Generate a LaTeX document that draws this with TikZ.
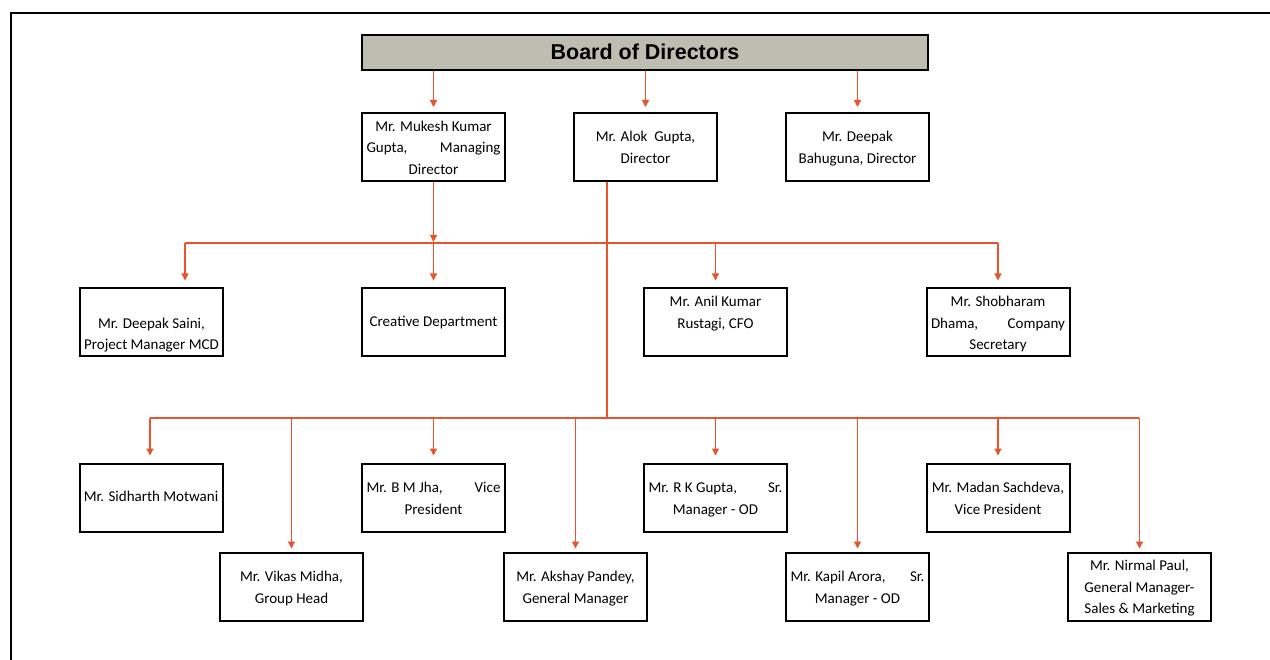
\documentclass[tikz,border=0pt]{standalone}
\usepackage{fontspec}
\setmainfont{Carlito}
\newfontfamily\boardfont{Liberation Sans}
\usetikzlibrary{arrows.meta}
\definecolor{conn}{RGB}{233,83,43}
\definecolor{boardfill}{RGB}{190,189,177}
\newcommand{\jline}[2]{\makebox[134pt]{#1\hfill#2}}
\newcommand{\firstl}{\rule[-4pt]{0pt}{19.5pt}}
\newcommand{\lastl}{\rule[-4pt]{0pt}{4pt}}
\begin{document}
\begin{tikzpicture}[x=1pt,y=-1pt,
 box/.style={draw=black,line width=2pt,minimum width=143pt,minimum height=68pt,inner sep=0pt,align=center,
   font=\fontsize{15}{21.5}\selectfont},
 boardbox/.style={draw=black,line width=2pt,fill=boardfill,minimum width=566pt,minimum height=35pt,inner sep=0pt,
   font=\boardfont\bfseries\fontsize{21.5}{24}\selectfont},
 arr/.style={draw=conn,line width=1.3pt,-{Triangle[length=7pt,width=7pt]}},
 ln/.style={draw=conn,line width=1.3pt},
 frame/.style={line width=2.5pt,line join=miter}]
\useasboundingbox (0,0) rectangle (1270,660);
\draw[frame] (11,662) -- (11,13) -- (1272,13);

\node[boardbox] (board) at (645,52.5) {\raisebox{2pt}{Board of Directors}};

\node[box] (mk) at (433.5,147) {\firstl Mr. Mukesh Kumar\\\jline{Gupta,}{Managing}\\Director\lastl};
\node[box] (ag) at (645.5,147) {\firstl Mr. Alok\ \ Gupta,\\Director\lastl};
\node[box] (db) at (857.5,147) {\firstl Mr. Deepak\\Bahuguna, Director\lastl};

\node[box] (ds) at (151.5,322.5) {\firstl\mbox{}\\Mr. Deepak Saini,\\Project Manager MCD\lastl};
\node[box] (cd) at (433.5,322.5) {\strut Creative Department};
\node[box] (ak) at (715.5,322.5) {\firstl Mr. Anil Kumar\\Rustagi, CFO\\\mbox{}\lastl};
\node[box] (sd) at (998,322.5) {\firstl Mr. Shobharam\\\jline{Dhama,}{Company}\\Secretary\lastl};

\node[box] (sm) at (151,497.5) {\strut Mr. Sidharth Motwani};
\node[box] (bm) at (433.5,497.5) {\firstl\jline{Mr. B M Jha,}{Vice}\\President\lastl};
\node[box] (rk) at (715.5,497.5) {\firstl\jline{Mr. R K Gupta,}{Sr.}\\Manager - OD\lastl};
\node[box] (ms) at (998,497.5) {\firstl Mr. Madan Sachdeva,\\Vice President\lastl};

\node[box] (vm) at (291.5,586.5) {\firstl Mr. Vikas Midha,\\Group Head\lastl};
\node[box] (ap) at (575.5,586.5) {\firstl Mr. Akshay Pandey,\\General Manager\lastl};
\node[box] (ka) at (857.5,586.5) {\firstl\jline{Mr. Kapil Arora,}{Sr.}\\Manager - OD\lastl};
\node[box] (np) at (1139.5,586.5) {\firstl Mr. Nirmal Paul,\\General Manager-\\Sales \& Marketing\lastl};

% board to directors
\foreach \n in {mk,ag,db}
  \draw[arr] (board.south -| \n.north) -- ([yshift=5pt]\n.north);

% Mukesh branch
\coordinate (h1L) at (185,243);
\coordinate (h1R) at (998,243);
\coordinate (h1M) at (433.5,243);
\draw[ln] (h1L) -- (h1R);
\draw[arr,shorten >=1pt] (mk.south) -- (h1M);
\draw[arr] (h1L) -- ([yshift=7pt]h1L |- ds.north);
\foreach \n in {cd,ak,sd}
  \draw[arr] (h1L -| \n.north) -- ([yshift=7pt]\n.north);

% Alok branch
\coordinate (h2L) at (150,418);
\coordinate (h2R) at (1139,418);
\coordinate (h2A) at (607,418);
\draw[ln] (h2L) -- (h2R);
\draw[ln] (ag.south -| h2A) -- (h2A);
\draw[arr] (h2L) -- ([yshift=7pt]h2L |- sm.north);
\foreach \n in {bm,rk,ms}
  \draw[arr] (h2L -| \n.north) -- ([yshift=7pt]\n.north);
\foreach \n in {vm,ap,ka,np}
  \draw[arr] (h2L -| \n.north) -- ([yshift=3pt]\n.north);
\end{tikzpicture}
\end{document}
